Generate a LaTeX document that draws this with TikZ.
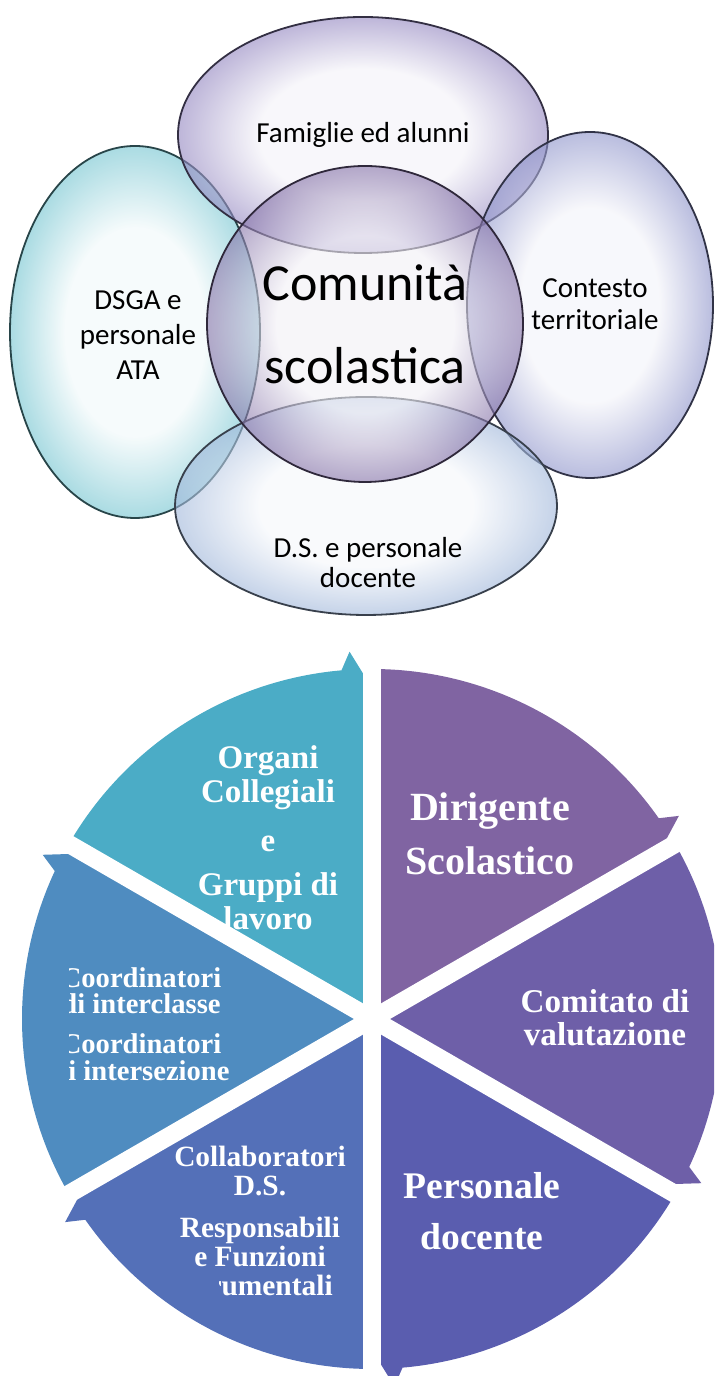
\documentclass[tikz,border=0pt]{standalone}
\usepackage{fontspec}
\setmainfont{Liberation Serif}
\newfontfamily\calibri{Carlito}
\usetikzlibrary{shapes.geometric, positioning, calc}

\definecolor{dsgaC}{HTML}{72C4D0}
\definecolor{famC}{HTML}{9285C0}
\definecolor{conC}{HTML}{8C92CA}
\definecolor{dsC}{HTML}{9FB6DA}
\definecolor{comC}{HTML}{8572A8}
\definecolor{segteal}{HTML}{4BACC6}
\definecolor{segdir}{HTML}{8064A2}
\definecolor{segcom}{HTML}{6E5FA8}
\definecolor{segdoc}{HTML}{5A5DAF}
\definecolor{segcol}{HTML}{5470B8}
\definecolor{segcoo}{HTML}{4F8CC0}

% bubble look: light centre, darker rim
\makeatletter
\pgfdeclareradialshading[tikz@radial@inner,tikz@radial@outer]{bubble}{\pgfpoint{0bp}{0bp}}{%
  color(0bp)=(tikz@radial@inner); color(14bp)=(tikz@radial@inner);
  color(25bp)=(tikz@radial@outer); color(50bp)=(tikz@radial@outer)}
\makeatother

\begin{document}
\begin{tikzpicture}[x=0.5pt, y=0.5pt,
        bubble/.style={ellipse, draw=#1!35!black, line width=0.9pt, inner sep=0pt,
                       fill opacity=0.6, inner color=#1!10!white, outer color=#1,
                       shading=bubble},
        lbl/.style={font=\calibri\fontsize{14.5}{16}\selectfont, align=center},
        seg/.style={text=white, align=center},
        gap/.style={white, line width=9pt}
    ]
    \useasboundingbox (0,0) rectangle (714,1376);
    \fill[white] (0,0) rectangle (714,1376);
    \clip (0,0) rectangle (714,1376);

    % comunita' scolastica
    \node[bubble=dsgaC, minimum width=125pt, minimum height=186pt] (dsga) at (135,1044) {};
    \node[bubble=famC, minimum width=185pt, minimum height=118pt] (fam) at (363,1241) {};
    \node[bubble=conC, minimum width=123pt, minimum height=173pt] (cont) at (590,1071) {};
    \node[bubble=dsC, minimum width=191pt, minimum height=109pt] (ds) at (366,870) {};
    \node[bubble=comC, minimum width=158pt, minimum height=158pt] (com) at (365,1052) {};

    \node[lbl] (famtext) at (fam.center) {Famiglie ed alunni};
    \node[lbl, font=\calibri\fontsize{14.5}{17.5}\selectfont] (dsgatext)
          at ([shift={(1.5pt,-1.5pt)}]dsga.center) {DSGA e\\personale\\ATA};
    \node[lbl] (contesto) at ([shift={(2.5pt,0.5pt)}]cont.center) {Contesto\\territoriale};
    \node[lbl, font=\calibri\fontsize{14.5}{15}\selectfont] (dstext)
          at ([shift={(1pt,-28.5pt)}]ds.center) {D.S. e personale\\docente};
    \node[font=\calibri\fontsize{26}{41.5}\selectfont, align=center] (comtext)
          at (com.center) {Comunità\\scolastica};

    % organigramma a ciclo
    \coordinate (pc) at (372,357);
    \foreach \a/\c in {150/segteal, 90/segdir, 30/segcom, -30/segdoc, -90/segcol, -150/segcoo}
        \fill[\c] (pc) -- ($(pc)+(\a:350)$) arc[start angle=\a, end angle=\a-55, radius=350]
            -- ($(pc)+(\a-56.5:368)$) -- ($(pc)+(\a-61:322)$) -- cycle;

    \node[seg, font=\bfseries\fontsize{16.5}{17}\selectfont] (organi) at (268,538)
        {Organi\\Collegiali\\[7.5pt]e\\[5pt]Gruppi di\\lavoro};
    \node[seg, font=\bfseries\fontsize{20}{27}\selectfont] (dirigente) at (490,542)
        {Dirigente\\Scolastico};
    \node[seg, font=\bfseries\fontsize{16.6}{16.5}\selectfont] (comitato) at (605,358)
        {Comitato di\\valutazione};
    \node[seg, font=\bfseries\fontsize{18.8}{25.5}\selectfont] (personale) at (482,165)
        {Personale\\docente};
    \begin{scope}
        \clip (150,103) -- (150,240) -- (360,240) -- (360,60) -- (219,60) -- (219,103) -- cycle;
        \node[seg, font=\bfseries\fontsize{14.7}{14.5}\selectfont] (collab) at (260,155)
            {Collaboratori\\D.S.\\[6.5pt]Responsabili\\e Funzioni\\strumentali};
    \end{scope}
    \begin{scope}
        \clip (69,280) rectangle (260,420);
        \node[seg, font=\bfseries\fontsize{14.3}{13.3}\selectfont] (coord) at (141,352)
            {Coordinatori\\di interclasse\\[6.7pt]Coordinatori\\di intersezione};
    \end{scope}

    \foreach \a in {90,30,...,-210}
        \draw[gap] (pc) -- ++(\a:400);
\end{tikzpicture}
\end{document}
